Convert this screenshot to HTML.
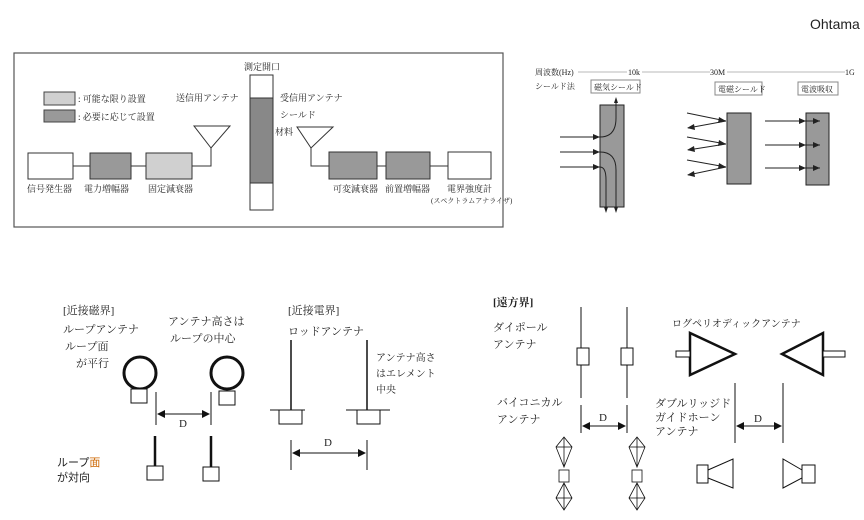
<!DOCTYPE html>
<html><head><meta charset="utf-8"><style>
body{margin:0;background:#fff}
svg text{font-family:"Liberation Serif","Noto Serif CJK SC","Noto Sans CJK JP",serif;fill:#222}
</style></head><body>
<svg width="864" height="515" viewBox="0 0 864 515" xmlns="http://www.w3.org/2000/svg">
<text x="810" y="29" style="font-family:'Liberation Sans',sans-serif;font-size:14px" fill="#000">Ohtama</text>

<!-- Top-left diagram -->
<rect x="14" y="53" width="489" height="174" fill="#fff" stroke="#555" stroke-width="1.2"/>
<g font-size="9">
<rect x="44" y="92" width="31" height="13" fill="#d0d0d0" stroke="#444"/>
<rect x="44" y="110" width="31" height="12" fill="#999" stroke="#444"/>
<text x="78" y="102">: 可能な限り設置</text>
<text x="78" y="120">: 必要に応じて設置</text>
<text x="176" y="101">送信用アンテナ</text>
<text x="244" y="70">測定開口</text>
<text x="280" y="101">受信用アンテナ</text>
<text x="280" y="118">シールド</text>
<text x="275" y="135">材料</text>
<line x1="73" y1="166" x2="329" y2="166" stroke="#333" stroke-width="0" />
<line x1="73" y1="166" x2="90" y2="166" stroke="#333"/>
<line x1="131" y1="166" x2="146" y2="166" stroke="#333"/>
<polyline points="192,166 211,166 211,148" fill="none" stroke="#333"/>
<polygon points="194,126 230,126 211,148" fill="none" stroke="#333"/>
<polyline points="329,166 311,166 311,148" fill="none" stroke="#333"/>
<polygon points="297,127 333,127 311,148" fill="none" stroke="#333"/>
<line x1="377" y1="166" x2="386" y2="166" stroke="#333"/>
<line x1="430" y1="166" x2="448" y2="166" stroke="#333"/>
<rect x="28" y="153" width="45" height="26" fill="#fff" stroke="#333"/>
<rect x="90" y="153" width="41" height="26" fill="#999" stroke="#333"/>
<rect x="146" y="153" width="46" height="26" fill="#d0d0d0" stroke="#333"/>
<rect x="329" y="152" width="48" height="27" fill="#999" stroke="#333"/>
<rect x="386" y="152" width="44" height="27" fill="#999" stroke="#333"/>
<rect x="448" y="152" width="43" height="27" fill="#fff" stroke="#333"/>
<rect x="250" y="75" width="23" height="135" fill="#fff" stroke="#333"/>
<rect x="250" y="98" width="23" height="85" fill="#888" stroke="#333"/>
<text x="27" y="192">信号発生器</text>
<text x="84" y="192">電力増幅器</text>
<text x="148" y="192">固定減衰器</text>
<text x="333" y="192">可変減衰器</text>
<text x="385" y="192">前置増幅器</text>
<text x="447" y="192">電界強度計</text>
<text x="431" y="203" font-size="7">(スペクトラムアナライザ)</text>
</g>

<!-- Top-right diagram -->
<g font-size="8">
<text x="535" y="75">周波数(Hz)</text>
<line x1="578" y1="72" x2="627" y2="72" stroke="#777" stroke-width="0.6"/>
<text x="628" y="75">10k</text>
<line x1="642" y1="72" x2="710" y2="72" stroke="#777" stroke-width="0.6"/>
<text x="710" y="75">30M</text>
<line x1="727" y1="72" x2="845" y2="72" stroke="#777" stroke-width="0.6"/>
<text x="845" y="75">1G</text>
<text x="535" y="89">シールド法</text>
<rect x="591" y="80" width="49" height="13" fill="#fff" stroke="#888"/>
<text x="594" y="90">磁気シールド</text>
<rect x="715" y="82" width="47" height="13" fill="#fff" stroke="#888"/>
<text x="718" y="92">電磁シールド</text>
<rect x="798" y="82" width="40" height="13" fill="#fff" stroke="#888"/>
<text x="801" y="92">電波吸収</text>
</g>
<g stroke="#222" fill="none" stroke-width="1">
<rect x="600" y="105" width="24" height="102" fill="#999"/>
<rect x="727" y="113" width="24" height="71" fill="#999"/>
<rect x="806" y="113" width="23" height="72" fill="#999"/>
<line x1="560" y1="137" x2="600" y2="137"/>
<path d="M600 137 Q616 137 616 118 L616 100"/>
<line x1="560" y1="152" x2="600" y2="152"/>
<path d="M600 152 Q616 152 616 170 L616 210"/>
<line x1="560" y1="167" x2="600" y2="167"/>
<path d="M600 167 Q606 167 606 180 L606 210"/>
<line x1="687" y1="113" x2="726" y2="121"/><line x1="726" y1="121" x2="688" y2="128"/>
<line x1="687" y1="137" x2="726" y2="144"/><line x1="726" y1="144" x2="688" y2="150"/>
<line x1="687" y1="160" x2="726" y2="167"/><line x1="726" y1="167" x2="688" y2="175"/>
<line x1="765" y1="121" x2="820" y2="121"/>
<line x1="765" y1="145" x2="820" y2="145"/>
<line x1="765" y1="168" x2="820" y2="168"/>
</g>
<g fill="#222">
<polygon points="600,137 593,134 593,140"/><polygon points="600,152 593,149 593,155"/><polygon points="600,167 593,164 593,170"/>
<polygon points="616,97 614,103 618,103"/><polygon points="616,213 614,207 618,207"/><polygon points="606,213 604,207 608,207"/>
<polygon points="726,121 719,117 718,123"/><polygon points="726,144 719,140 718,146"/><polygon points="726,167 719,163 718,169"/>
<polygon points="687,128 694,124 695,130"/><polygon points="687,150 694,146 695,152"/><polygon points="687,175 694,171 695,177"/>
<polygon points="806,121 799,118 799,124"/><polygon points="806,145 799,142 799,148"/><polygon points="806,168 799,165 799,171"/>
<polygon points="820,121 813,118 813,124"/><polygon points="820,145 813,142 813,148"/><polygon points="820,168 813,165 813,171"/>
</g>

<!-- Bottom-left -->
<g font-size="11">
<text x="63" y="314">[近接磁界]</text>
<text x="63" y="333">ループアンテナ</text>
<text x="65" y="350">ループ面</text>
<text x="76" y="367">が平行</text>
<text x="168" y="325">アンテナ高さは</text>
<text x="170" y="342">ループの中心</text>
<text x="288" y="314">[近接電界]</text>
<text x="288" y="335">ロッドアンテナ</text>
<text x="376" y="361" font-size="10">アンテナ高さ</text>
<text x="376" y="377" font-size="10">はエレメント</text>
<text x="376" y="393" font-size="10">中央</text>
<text x="57" y="466" style="font-family:'Liberation Sans','Noto Sans CJK JP',sans-serif" fill="#000">ループ<tspan fill="#c60">面</tspan></text>
<text x="57" y="481" style="font-family:'Liberation Sans','Noto Sans CJK JP',sans-serif" fill="#000">が対向</text>
<text x="179" y="427">D</text>
<text x="324" y="446">D</text>
</g>
<g stroke="#111" fill="none">
<circle cx="140" cy="373" r="16" stroke-width="3"/>
<circle cx="227" cy="373" r="16" stroke-width="3"/>
<rect x="131" y="389" width="16" height="14" fill="#fff"/>
<rect x="219" y="391" width="16" height="14" fill="#fff"/>
<line x1="156" y1="392" x2="156" y2="425"/>
<line x1="211" y1="392" x2="211" y2="425"/>
<line x1="158" y1="414" x2="209" y2="414"/>
<line x1="155" y1="436" x2="155" y2="466" stroke-width="2.5"/>
<line x1="211" y1="436" x2="211" y2="467" stroke-width="2.5"/>
<rect x="147" y="466" width="16" height="14" fill="#fff"/>
<rect x="203" y="467" width="16" height="14" fill="#fff"/>
<line x1="291" y1="340" x2="291" y2="410" stroke-width="1.5"/>
<line x1="367" y1="340" x2="367" y2="410" stroke-width="1.5"/>
<line x1="270" y1="410" x2="305" y2="410"/>
<line x1="346" y1="410" x2="390" y2="410"/>
<rect x="279" y="410" width="23" height="14" fill="#fff"/>
<rect x="357" y="410" width="23" height="14" fill="#fff"/>
<line x1="291" y1="440" x2="291" y2="470"/>
<line x1="367" y1="440" x2="367" y2="470"/>
<line x1="293" y1="453" x2="365" y2="453"/>
</g>
<g fill="#111">
<polygon points="157,414 165,410 165,418"/><polygon points="210,414 202,410 202,418"/>
<polygon points="292,453 300,449 300,457"/><polygon points="366,453 358,449 358,457"/>
</g>

<!-- Bottom-right -->
<g font-size="11">
<text x="493" y="306" font-weight="bold" fill="#000">[遠方界]</text>
<text x="493" y="331">ダイポール</text>
<text x="493" y="348">アンテナ</text>
<text x="672" y="327" font-size="10">ログペリオディックアンテナ</text>
<text x="497" y="406">バイコニカル</text>
<text x="497" y="423">アンテナ</text>
<text x="655" y="407">ダブルリッジド</text>
<text x="655" y="421">ガイドホーン</text>
<text x="655" y="435">アンテナ</text>
<text x="599" y="421">D</text>
<text x="754" y="422">D</text>
</g>
<g stroke="#111" fill="none">
<line x1="581" y1="307" x2="581" y2="398"/>
<line x1="627" y1="307" x2="627" y2="398"/>
<rect x="577" y="348" width="12" height="17" fill="#fff"/>
<rect x="621" y="348" width="12" height="17" fill="#fff"/>
<line x1="581" y1="405" x2="581" y2="433"/>
<line x1="627" y1="405" x2="627" y2="433"/>
<line x1="583" y1="426" x2="625" y2="426"/>
<polygon points="690,333 690,375 735,354" stroke-width="2.5" fill="#fff"/>
<rect x="676" y="351" width="14" height="6" fill="#fff"/>
<polygon points="782,354 823,333 823,375" stroke-width="2.5" fill="#fff"/>
<rect x="823" y="351" width="22" height="6" fill="#fff"/>
<line x1="735" y1="383" x2="735" y2="443"/>
<line x1="783" y1="383" x2="783" y2="443"/>
<line x1="737" y1="426" x2="781" y2="426"/>
<g stroke-width="0.8">
<polygon points="564,437 556,447 564,467 572,447"/><line x1="556" y1="447" x2="572" y2="447"/><line x1="564" y1="437" x2="564" y2="467"/>
<rect x="559" y="470" width="10" height="12" fill="#fff"/>
<polygon points="564,483 556,498 564,510 572,498"/><line x1="556" y1="498" x2="572" y2="498"/><line x1="564" y1="483" x2="564" y2="510"/>
<polygon points="637,437 629,447 637,467 645,447"/><line x1="629" y1="447" x2="645" y2="447"/><line x1="637" y1="437" x2="637" y2="467"/>
<rect x="632" y="470" width="10" height="12" fill="#fff"/>
<polygon points="637,483 629,498 637,510 645,498"/><line x1="629" y1="498" x2="645" y2="498"/><line x1="637" y1="483" x2="637" y2="510"/>
</g>
<rect x="697" y="465" width="11" height="18" fill="#fff"/>
<polygon points="708,470 733,459 733,488 708,478" fill="#fff"/>
<polygon points="802,470 783,459 783,488 802,478" fill="#fff"/>
<rect x="802" y="465" width="13" height="18" fill="#fff"/>
</g>
<g fill="#111">
<polygon points="582,426 590,422 590,430"/><polygon points="626,426 618,422 618,430"/>
<polygon points="736,426 744,422 744,430"/><polygon points="782,426 774,422 774,430"/>
</g>
</svg>
</body></html>
